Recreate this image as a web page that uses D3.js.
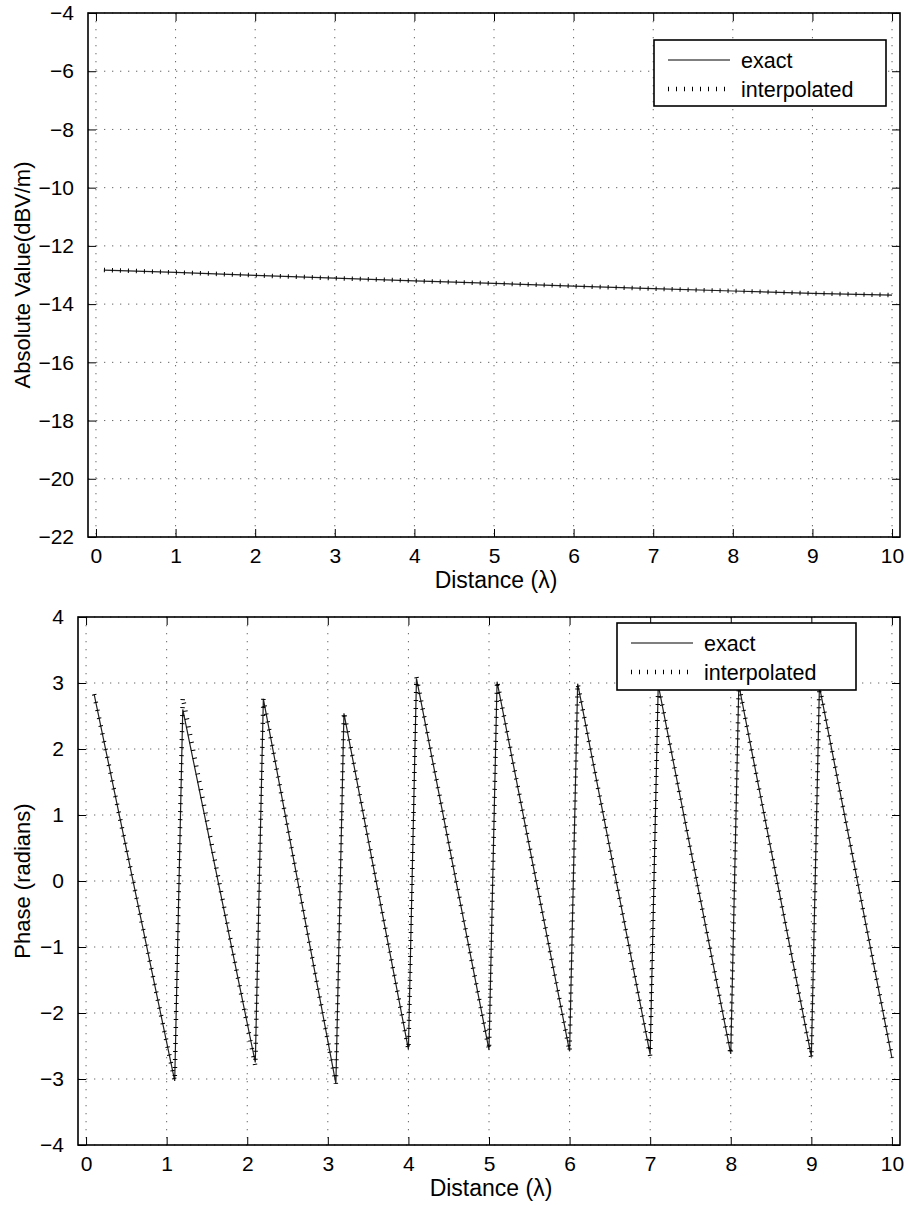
<!DOCTYPE html>
<html>
<head>
<meta charset="utf-8">
<script src="https://cdn.jsdelivr.net/npm/d3@7"></script>
<style>
  body { margin: 0; background: #fff; }
  svg text { font-family: "Liberation Sans", Arial, Helvetica, sans-serif; fill: #000; }
</style>
</head>
<body>
<div id="vis-container"></div>
<script>
// sample positions (wavelengths) and values
let absX = [0.1, 1, 2, 3, 4, 5, 6, 7, 8, 9, 10];
let absExact = [-12.83, -12.91, -13.01, -13.11, -13.2, -13.29, -13.38, -13.47, -13.55, -13.63, -13.69];
let absInterp = [-12.83, -12.91, -13.01, -13.11, -13.2, -13.29, -13.38, -13.47, -13.55, -13.63, -13.69];

let phaseX = [0.1, 1.1, 1.2, 2.1, 2.2, 3.1, 3.2, 4.0, 4.1, 5.0, 5.1, 6.0, 6.1, 7.0, 7.1, 8.0, 8.1, 9.0, 9.1, 10.0];
let phaseExact = [2.83, -3.03, 2.6, -2.75, 2.76, -3.07, 2.54, -2.55, 3.07, -2.56, 3.02, -2.58, 2.99, -2.63, 2.97, -2.62, 2.97, -2.66, 2.95, -2.68];
let phaseInterp = [2.83, -3.03, 2.78, -2.8, 2.76, -3.07, 2.56, -2.55, 3.09, -2.56, 3.03, -2.58, 2.99, -2.65, 2.97, -2.63, 2.97, -2.68, 2.95, -2.68];

let xTicks = [0, 1, 2, 3, 4, 5, 6, 7, 8, 9, 10];
let absTicks = [-22, -20, -18, -16, -14, -12, -10, -8, -6, -4];
let phaseTicks = [-4, -3, -2, -1, 0, 1, 2, 3, 4];
let legendLabels = ["exact", "interpolated"];

let width = 909;
let height = 1205;

let svg = d3
  .select("#vis-container")
  .append("svg")
  .attr("width", width)
  .attr("height", height);

const fmt = d => (d < 0 ? "\u2212" + Math.abs(d) : String(d));

function drawPanel(opts) {
  let x = d3.scaleLinear().domain([-0.1, 10.1]).range([opts.left, opts.right]);
  let y = d3.scaleLinear().domain(opts.yDomain).range([opts.bottom, opts.top]);
  let g = svg.append("g");

  // dotted grid
  g.selectAll("line.vgrid")
    .data(xTicks)
    .enter()
    .append("line")
    .attr("x1", d => x(d)).attr("x2", d => x(d))
    .attr("y1", opts.top).attr("y2", opts.bottom)
    .attr("stroke", "#666").attr("stroke-width", 1)
    .attr("stroke-dasharray", "1.3 6.7");
  g.selectAll("line.hgrid")
    .data(opts.yTicks)
    .enter()
    .append("line")
    .attr("x1", opts.left).attr("x2", opts.right)
    .attr("y1", d => y(d)).attr("y2", d => y(d))
    .attr("stroke", "#666").attr("stroke-width", 1)
    .attr("stroke-dasharray", "1.3 6.7");

  // axes (ticks point inward, mirrored on all sides)
  let bottomAxis = d3.axisBottom(x).tickValues(xTicks).tickSizeInner(-8).tickSizeOuter(0).tickPadding(11).tickFormat(fmt);
  let leftAxis = d3.axisLeft(y).tickValues(opts.yTicks).tickSizeInner(-8).tickSizeOuter(0).tickPadding(14).tickFormat(fmt);

  let gx = g.append("g").attr("transform", `translate(0,${opts.bottom})`).call(bottomAxis);
  let gy = g.append("g").attr("transform", `translate(${opts.left},0)`).call(leftAxis);
  g.append("g").attr("transform", `translate(0,${opts.top})`)
    .call(d3.axisTop(x).tickValues(xTicks).tickSizeInner(-8).tickSizeOuter(0).tickFormat(""));
  g.append("g").attr("transform", `translate(${opts.right},0)`)
    .call(d3.axisRight(y).tickValues(opts.yTicks).tickSizeInner(-8).tickSizeOuter(0).tickFormat(""));

  g.selectAll(".domain").remove();
  g.selectAll(".tick line").attr("stroke", "#000").attr("stroke-width", 1);
  gx.selectAll("text").style("font-size", "21px").attr("dy", "0.71em");
  gy.selectAll("text").style("font-size", "21px");

  g.append("rect")
    .attr("x", opts.left).attr("y", opts.top)
    .attr("width", opts.right - opts.left).attr("height", opts.bottom - opts.top)
    .attr("fill", "none").attr("stroke", "#000").attr("stroke-width", 1.6);

  // series
  let line = d3.line().x(d => x(d[0])).y(d => y(d[1]));
  let exact = opts.xs.map((v, i) => [v, opts.exact[i]]);
  let interp = opts.xs.map((v, i) => [v, opts.interp[i]]);

  g.append("path").datum(exact)
    .attr("d", line).attr("fill", "none")
    .attr("stroke", "#222").attr("stroke-width", 1.2);
  g.append("path").datum(interp)
    .attr("d", line).attr("fill", "none")
    .attr("stroke", "#000").attr("stroke-width", 4.5)
    .attr("stroke-dasharray", "1 7");

  // axis titles
  svg.append("text")
    .attr("x", (opts.left + opts.right) / 2 + 2).attr("y", opts.bottom + 51)
    .attr("text-anchor", "middle").style("font-size", "23px")
    .text("Distance (\u03bb)");
  svg.append("text")
    .attr("transform", `translate(${opts.ylabelX},${(opts.top + opts.bottom) / 2}) rotate(-90)`)
    .attr("text-anchor", "middle").style("font-size", "22px")
    .text(opts.ylabel);

  // legend
  let L = opts.legend;
  let lg = svg.append("g");
  lg.append("rect")
    .attr("x", L.x).attr("y", L.y).attr("width", L.w).attr("height", L.h)
    .attr("fill", "#fff").attr("stroke", "#000").attr("stroke-width", 1.6);
  legendLabels.forEach(function (lab, i) {
    let cy = L.y + 20 + i * 29;
    let seg = lg.append("line")
      .attr("x1", L.x + 14).attr("x2", L.x + 76)
      .attr("y1", cy).attr("y2", cy)
      .attr("stroke", "#000");
    if (i === 0) {
      seg.attr("stroke-width", 1.2);
    } else {
      seg.attr("stroke-width", 4.5).attr("stroke-dasharray", "1 7");
    }
    lg.append("text")
      .attr("x", L.x + 87).attr("y", cy)
      .attr("dy", "0.35em").style("font-size", "21.5px")
      .text(lab);
  });
}

drawPanel({
  left: 88, right: 900, top: 13, bottom: 537,
  yDomain: [-22, -4], yTicks: absTicks,
  xs: absX, exact: absExact, interp: absInterp,
  ylabel: "Absolute Value(dBV/m)", ylabelX: 30,
  legend: { x: 654, y: 40, w: 232, h: 66 }
});

drawPanel({
  left: 78, right: 900, top: 617, bottom: 1145,
  yDomain: [-4, 4], yTicks: phaseTicks,
  xs: phaseX, exact: phaseExact, interp: phaseInterp,
  ylabel: "Phase (radians)", ylabelX: 30,
  legend: { x: 617, y: 623, w: 239, h: 67 }
});
</script>
</body>
</html>
